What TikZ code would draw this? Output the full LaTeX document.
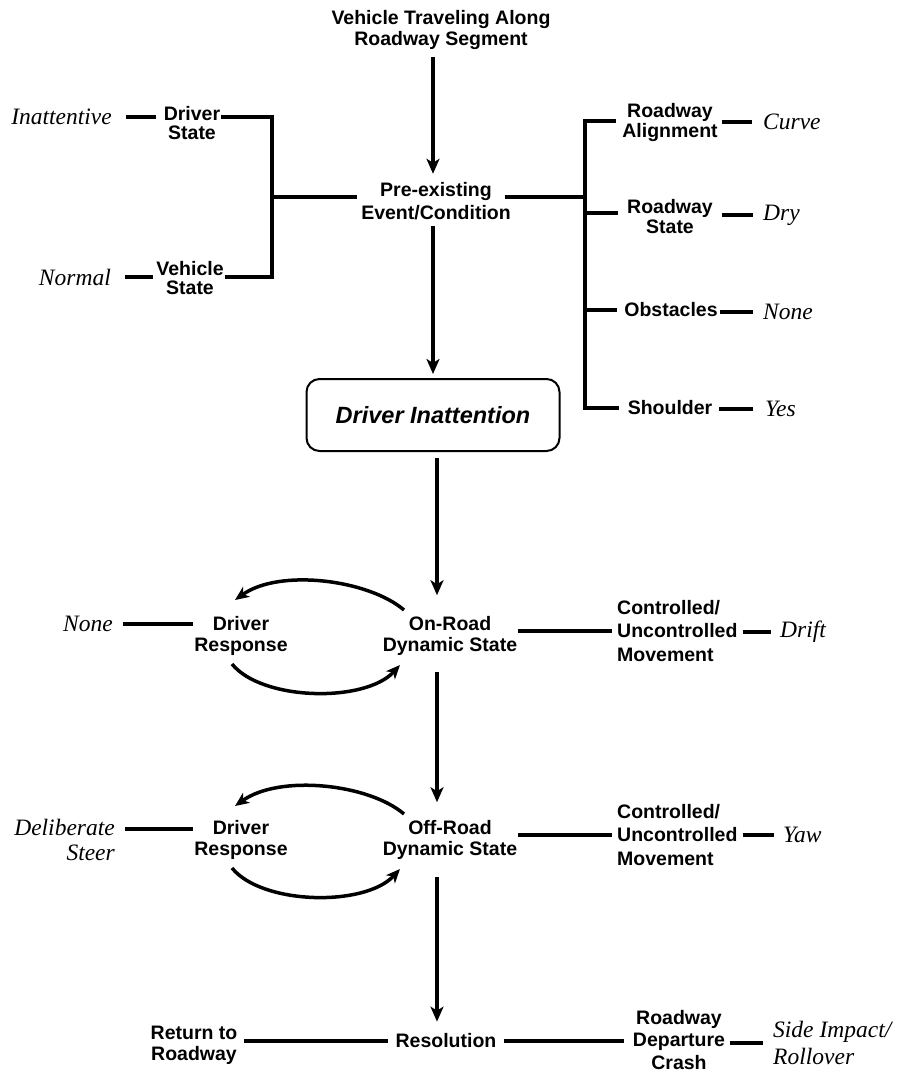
\documentclass[tikz,border=0pt]{standalone}
\usepackage{fontspec}
\setmainfont{Liberation Serif}
\setsansfont{Liberation Sans}
\usetikzlibrary{arrows.meta}
\begin{document}
\begin{tikzpicture}[x=1pt,y=-1pt,
  cat/.style={font=\sffamily\bfseries\fontsize{19.5}{21}\selectfont, align=center, inner sep=0pt},
  catwide/.style={cat, font=\sffamily\bfseries\fontsize{19.5}{23.5}\selectfont},
  val/.style={font=\itshape\fontsize{23.5}{26}\selectfont, inner sep=0pt},
  link/.style={line width=3.2pt},
  flow/.style={line width=3.5pt, -{Stealth[length=15pt,width=13pt,inset=4pt]}},
  swing/.style={line width=3.5pt, -{Stealth[length=14pt,width=12pt,inset=4pt]}},
  focus/.style={draw, rounded corners=13pt, line width=2pt, minimum width=253pt,
    minimum height=72pt, inner sep=0pt,
    font=\sffamily\bfseries\itshape\fontsize{23.5}{26}\selectfont}]

\useasboundingbox[fill=white] (0,0) rectangle (897,1074);

% main column
\node[cat] (top) at (441,30) {Vehicle Traveling Along\\Roadway Segment};
\node[catwide] (pre) at (436,201) {Pre-existing\\Event/Condition};
\node[focus] (box) at (433,415) {Driver Inattention};
\node[cat] (on) at (450,636) {On-Road\\Dynamic State};
\node[cat] (off) at (450,840) {Off-Road\\Dynamic State};
\node[cat] (res) at (446,1041) {Resolution};

% vertical axes of the flow arrows
\coordinate (axisA) at (433,0);
\coordinate (axisB) at (437,0);

% left factors
\node[cat, font=\sffamily\bfseries\fontsize{19.5}{19.5}\selectfont] (ds) at (192,123) {Driver\\State};
\node[cat, font=\sffamily\bfseries\fontsize{19.5}{19.5}\selectfont] (vs) at (190,278) {Vehicle\\State};
\node[val, anchor=east] (inatt) at (112,117) {Inattentive};
\node[val, anchor=east] (normal) at (111,277) {Normal};

% right factors
\node[cat, font=\sffamily\bfseries\fontsize{19.5}{20}\selectfont] (ra) at (670,122) {Roadway\\Alignment};
\node[cat, font=\sffamily\bfseries\fontsize{19.5}{20}\selectfont] (rs) at (670,217) {Roadway\\State};
\node[cat] (obs) at (671,310) {Obstacles};
\node[cat] (sh) at (670,408) {Shoulder};
\node[val, anchor=west] (curve) at (763,122) {Curve};
\node[val, anchor=west] (dry) at (763,215) {Dry};
\node[val, anchor=west] (none1) at (763,312) {None};
\node[val, anchor=west] (yes) at (765,409) {Yes};

% bracket points
\coordinate (lbt) at (272,117);
\coordinate (lbb) at (272,277);
\coordinate (lbm) at (272,197);
\coordinate (rbt) at (585,121);
\coordinate (rbb) at (585,408);
\coordinate (rbm) at (585,197);

% on-road row
\node[cat] (dr1) at (241,636) {Driver\\Response};
\node[val, anchor=east] (none2) at (113,624) {None};
\node[catwide, anchor=west, align=left] (cu1) at (617,631) {Controlled/\\Uncontrolled\\Movement};
\node[val, anchor=west] (drift) at (780,632) {Drift};

% off-road row
\node[cat] (dr2) at (241,840) {Driver\\Response};
\node[val, anchor=east, align=right, font=\itshape\fontsize{23.5}{25}\selectfont] (delib) at (115,840) {Deliberate\\Steer};
\node[catwide, anchor=west, align=left] (cu2) at (617,835) {Controlled/\\Uncontrolled\\Movement};
\node[val, anchor=west] (yaw) at (783,835) {Yaw};

% outcomes
\node[cat] (ret) at (194,1045) {Return to\\Roadway};
\node[cat, font=\sffamily\bfseries\fontsize{19.5}{22.5}\selectfont] (rdc) at (679,1040) {Roadway\\Departure\\Crash};
\node[val, anchor=west, align=left, font=\itshape\fontsize{23.5}{27}\selectfont] (side) at (773,1043) {Side Impact/\\Rollover};

% flow arrows
\draw[flow, shorten <=7pt, shorten >=8pt] (top.south -| axisA) -- (pre.north -| axisA);
\draw[flow, shorten <=6pt, shorten >=4pt] (pre.south -| axisA) -- (box.north -| axisA);
\draw[flow, shorten <=6pt, shorten >=21pt] (box.south -| axisB) -- (on.north -| axisB);
\draw[flow, shorten <=16pt, shorten >=18pt] (on.south -| axisB) -- (off.north -| axisB);
\draw[flow, shorten <=17pt, shorten >=12pt] (off.south -| axisB) -- (res.north -| axisB);

% left bracket
\draw[link, shorten <=14pt, shorten >=8pt] (inatt.east) -- (inatt.east -| ds.west);
\draw[link, shorten <=14pt, shorten >=3pt] (normal.east) -- (normal.east -| vs.west);
\draw[link, line join=miter, shorten <=1pt, shorten >=1pt] (ds.east |- lbt) -- (lbt) -- (lbb) -- (vs.east |- lbb);
\draw[link, shorten >=4pt] (lbm) -- (pre.west |- lbm);

% right bracket
\draw[link] ([xshift=-6pt]pre.east |- rbm) -- (rbm);
\draw[link, line join=miter, shorten <=6pt, shorten >=9pt] (ra.west |- rbt) -- (rbt) -- (rbb) -- (sh.west |- rbb);
\draw[link, shorten >=9pt] (rbm |- rs.west) ++(0,-4) -- ([yshift=4pt]rs.west);
\draw[link, shorten >=7pt] (rbm |- obs.west) -- (obs.west);
\draw[link, shorten <=4pt, shorten >=11pt] (ra.east |- curve.west) -- (curve.west);
\draw[link, shorten <=9pt, shorten >=10pt] (rs.east |- dry.west) -- (dry.west);
\draw[link, shorten <=2pt, shorten >=10pt] (obs.east |- none1.west) -- (none1.west);
\draw[link, shorten <=7pt, shorten >=12pt] (sh.east |- yes.west) -- (yes.west);

% on-road row links
\draw[link, shorten <=10pt, shorten >=1pt] (none2.east) -- (none2.east -| dr1.west);
\draw[link, shorten <=1pt, shorten >=5pt] (on.east |- cu1.west) -- (cu1.west);
\draw[link, shorten <=5pt, shorten >=9pt] (cu1.east |- drift.west) -- (drift.west);
\draw[swing] ([shift={(-46,-26)}]on.center) .. controls +(-35,-30) and +(45,-32) .. ([shift={(-6,-36)}]dr1.center);
\draw[swing] ([shift={(-9,28)}]dr1.center) .. controls +(30,37) and +(-35,38) .. ([shift={(-50,29)}]on.center);

% off-road row links
\coordinate (dl) at ([shift={(0,-11)}]delib.east);
\draw[link, shorten <=10pt, shorten >=1pt] (dl) -- (dl -| dr2.west);
\draw[link, shorten <=1pt, shorten >=5pt] (off.east |- cu2.west) -- (cu2.west);
\draw[link, shorten <=5pt, shorten >=9pt] (cu2.east |- yaw.west) -- (yaw.west);
\draw[swing] ([shift={(-46,-26)}]off.center) .. controls +(-35,-30) and +(45,-32) .. ([shift={(-6,-34)}]dr2.center);
\draw[swing] ([shift={(-9,28)}]dr2.center) .. controls +(30,37) and +(-35,38) .. ([shift={(-50,29)}]off.center);

% resolution links
\draw[link, shorten <=6pt, shorten >=7pt] (ret.east |- res.west) -- (res.west);
\draw[link, shorten <=7pt, shorten >=9pt] (res.east) -- (res.east -| rdc.west);
\draw[link, shorten <=5pt, shorten >=10pt] (rdc.east |- side.west) -- (side.west);
\end{tikzpicture}
\end{document}
